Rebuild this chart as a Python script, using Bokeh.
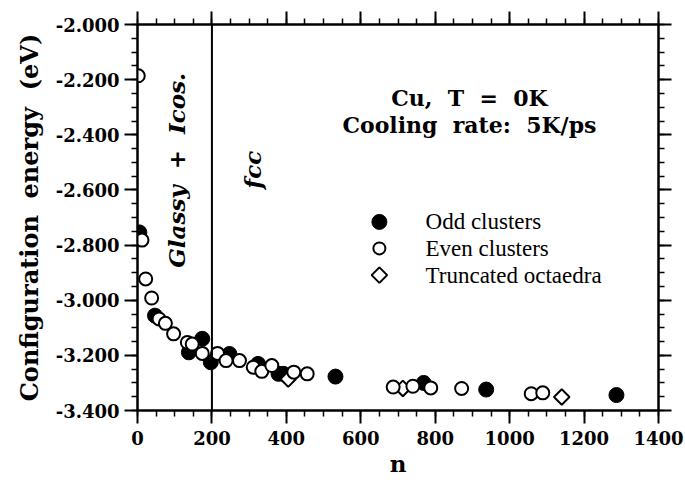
import numpy as np
from bokeh.plotting import figure
from bokeh.models import Range1d, LinearAxis, FixedTicker, NumeralTickFormatter, CustomJSTickFormatter, Span
from bokeh.core.properties import value
from bokeh.embed import file_html
from bokeh.resources import INLINE

# Configuration energy per atom (eV) of Cu clusters against cluster size n
odd_n = [5, 47, 138, 174, 197, 247, 324, 379, 392, 532, 769, 937, 1287]
odd_e = [-2.754, -3.056, -3.189, -3.140, -3.225, -3.195, -3.231, -3.267, -3.267,
         -3.277, -3.300, -3.324, -3.344]

even_n = [2, 12, 22, 38, 58, 75, 97, 134, 147, 174, 215, 238, 274, 311, 334, 361,
          420, 456, 687, 740, 788, 871, 1058, 1089]
even_e = [-2.186, -2.782, -2.923, -2.992, -3.068, -3.084, -3.122, -3.153, -3.159,
          -3.193, -3.193, -3.219, -3.219, -3.243, -3.258, -3.237, -3.261, -3.267,
          -3.315, -3.312, -3.318, -3.320, -3.339, -3.336]

octa_n = [405, 713, 1140]
octa_e = [-3.286, -3.320, -3.351]

legend_labels = ["Odd clusters", "Even clusters", "Truncated octaedra"]

x_ticks = [0, 200, 400, 600, 800, 1000, 1200, 1400]
x_minor_ticks = [0, 50, 100, 150, 200, 250, 300, 350, 400, 450, 500, 550, 600, 650, 700,
                 750, 800, 850, 900, 950, 1000, 1050, 1100, 1150, 1200, 1250, 1300, 1350, 1400]
y_ticks = [-3.4, -3.2, -3.0, -2.8, -2.6, -2.4, -2.2, -2.0]
y_minor_ticks = [-3.4, -3.35, -3.3, -3.25, -3.2, -3.15, -3.1, -3.05, -3.0, -2.95, -2.9,
                 -2.85, -2.8, -2.75, -2.7, -2.65, -2.6, -2.55, -2.5, -2.45, -2.4, -2.35,
                 -2.3, -2.25, -2.2, -2.15, -2.1, -2.05, -2.0]

boundary_n = 200  # glassy/icosahedral vs fcc regime

BOLD_FONT = "DejaVu Serif"
TEXT_FONT = "Liberation Serif"
NB = " \u00a0"  # wide word gap

p = figure(width=685, height=483, output_backend="svg", toolbar_location=None,
           x_range=Range1d(0, 1400), y_range=Range1d(-3.4, -2.0),
           min_border_left=137, min_border_right=27, min_border_top=24, min_border_bottom=73,
           background_fill_color="white", border_fill_color="white",
           outline_line_color="black", outline_line_width=2)
p.grid.visible = False


def style_axis(ax, ticks, minor, show_labels):
    ax.ticker = FixedTicker(ticks=ticks, minor_ticks=minor)
    ax.axis_line_width = 2
    ax.axis_line_color = "black"
    ax.major_tick_line_width = 2
    ax.major_tick_line_color = "black"
    ax.minor_tick_line_width = 1.5
    ax.minor_tick_line_color = "black"
    ax.major_tick_out = 13
    ax.major_tick_in = 0
    ax.minor_tick_out = 6
    ax.minor_tick_in = 0
    if show_labels:
        ax.major_label_text_font = BOLD_FONT
        ax.major_label_text_font_style = "bold"
        ax.major_label_text_font_size = "18px"
        ax.major_label_text_color = "black"
        ax.axis_label_text_font = BOLD_FONT
        ax.axis_label_text_font_style = "bold"
        ax.axis_label_text_color = "black"
    else:
        ax.formatter = CustomJSTickFormatter(code="return ''")
        ax.major_label_standoff = 0


style_axis(p.xaxis[0], x_ticks, x_minor_ticks, True)
p.xaxis[0].formatter = NumeralTickFormatter(format="0")
p.xaxis[0].major_label_standoff = 7
p.xaxis[0].axis_label = "n"
p.xaxis[0].axis_label_text_font_size = "23px"
p.xaxis[0].axis_label_standoff = 2

style_axis(p.yaxis[0], y_ticks, y_minor_ticks, True)
p.yaxis[0].formatter = NumeralTickFormatter(format="0.000")
p.yaxis[0].major_label_standoff = 5
p.yaxis[0].axis_label = "Configuration" + NB + "energy" + NB + "(eV)"
p.yaxis[0].axis_label_text_font_size = "24px"
p.yaxis[0].axis_label_standoff = 9

top_axis = LinearAxis()
style_axis(top_axis, x_ticks, x_minor_ticks, False)
p.add_layout(top_axis, "above")

right_axis = LinearAxis()
style_axis(right_axis, y_ticks, y_minor_ticks, False)
p.add_layout(right_axis, "right")

# regime boundary
p.add_layout(Span(location=boundary_n, dimension="height", line_color="black", line_width=2))

# data
p.scatter(odd_n, odd_e, marker="circle", size=15, fill_color="black", line_color="black", line_width=1)
p.scatter(octa_n, octa_e, marker="square", angle=np.pi / 4, size=11, fill_color="white",
          line_color="black", line_width=2)
p.scatter(even_n, even_e, marker="circle", size=13, fill_color="white", line_color="black", line_width=2)

# legend
leg_x = 650
leg_text_x = 774
leg_y = [-2.716, -2.812, -2.909]
p.scatter([leg_x], [leg_y[0]], marker="circle", size=15, fill_color="black", line_color="black")
p.scatter([leg_x], [leg_y[1]], marker="circle", size=12, fill_color="white", line_color="black", line_width=2)
p.scatter([leg_x], [leg_y[2]], marker="square", angle=np.pi / 4, size=11, fill_color="white",
          line_color="black", line_width=2)
p.text(x=[leg_text_x] * 3, y=leg_y, text=legend_labels, text_font=value(TEXT_FONT),
       text_font_size="23px", text_align="left", text_baseline="middle", text_color="black")

# annotations
p.text(x=[892, 892], y=[-2.268, -2.366],
       text=["Cu," + NB + "T" + NB + "=" + NB + "0K", "Cooling" + NB + "rate:" + NB + "5K/ps"],
       text_font=value(BOLD_FONT), text_font_style="bold", text_font_size="22px",
       text_align="center", text_baseline="middle", text_color="black")
p.text(x=[105], y=[-2.529], text=["Glassy" + NB + "+" + NB + "Icos."], angle=np.pi / 2,
       text_font=value(BOLD_FONT), text_font_style="bold italic", text_font_size="23px",
       text_align="center", text_baseline="middle", text_color="black")
p.text(x=[309], y=[-2.527], text=["fcc"], angle=np.pi / 2,
       text_font=value(BOLD_FONT), text_font_style="bold italic", text_font_size="23px",
       text_align="center", text_baseline="middle", text_color="black")

open("out.html", "w").write(file_html(p, INLINE))
